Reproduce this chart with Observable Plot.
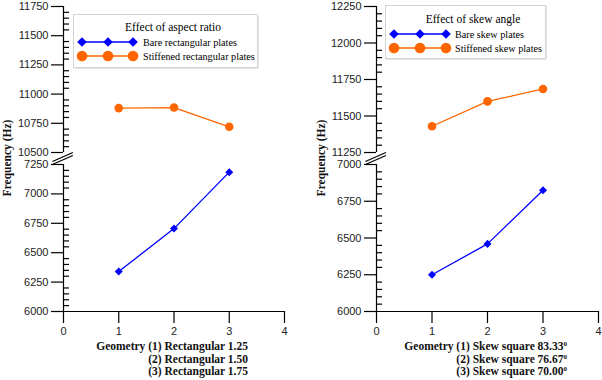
<!DOCTYPE html>
<html><head><meta charset="utf-8">
<script src="https://cdn.jsdelivr.net/npm/d3@7"></script>
<script src="https://cdn.jsdelivr.net/npm/@observablehq/plot@0.6"></script>
<style>
body{margin:0;background:#fff;}
#wrap{position:relative;width:602px;height:380px;overflow:hidden;font-family:"Liberation Serif","Times New Roman",serif;color:#111;}
.panel{position:absolute;top:0;}
.panel svg{overflow:visible;}
.xtitle{position:absolute;font-weight:bold;font-size:11.5px;line-height:12.6px;text-align:right;white-space:nowrap;}
.xtitle sup{font-size:7px;position:relative;top:-4px;vertical-align:baseline;line-height:0;}
.ytitle{position:absolute;font-weight:bold;font-size:11.5px;white-space:nowrap;transform:translate(-50%,-50%) rotate(-90deg);}
.legend{position:absolute;}
</style>
</head><body>
<div id="wrap"></div>
<script>
// ---- data ----
const geometry = [1, 2, 3];
const xTicks = [0, 1, 2, 3, 4];

const rectBare = [6340, 6705, 7185];
const rectStiff = [10880, 10885, 10720];
const rectLowTicks = [6000, 6250, 6500, 6750, 7000, 7250];
const rectHighTicks = [10500, 10750, 11000, 11250, 11500, 11750];

const skewBare = [6250, 6460, 6825];
const skewStiff = [11430, 11600, 11685];
const skewLowTicks = [6000, 6250, 6500, 6750, 7000];
const skewHighTicks = [11250, 11500, 11750, 12000, 12250];

const rectLegend = ["Bare rectangular plates", "Stiffened rectangular plates"];
const skewLegend = ["Bare skew plates", "Stiffened skew plates"];
const rectTitle = "Effect of aspect ratio";
const skewTitle = "Effect of skew angle";

const BLUE = "#0000ff";
const ORANGE = "#ff6600";

const wrap = document.getElementById("wrap");

function minorTicks(lo, hi, majors) {
  const out = [];
  for (let v = lo; v <= hi; v += 50) if (majors.indexOf(v) < 0) out.push(v);
  return out;
}

function panel({left, width, marginLeft, marginRight, lowTicks, highTicks, bare, stiff}) {
  const low0 = lowTicks[0], lowTop = lowTicks[lowTicks.length - 1];
  const high0 = highTicks[0], highTop = highTicks[highTicks.length - 1];
  const majors = [...lowTicks, ...highTicks];
  const minors = [...minorTicks(low0, lowTop, lowTicks), ...minorTicks(high0, highTop, highTicks)];
  const minorData = minors.map(v => ({v}));
  const bareData = geometry.map((g, i) => ({g, v: bare[i]}));
  const stiffData = geometry.map((g, i) => ({g, v: stiff[i]}));
  // break slashes drawn inside the gap of the piecewise scale
  const gap = f => lowTop + f * (high0 - lowTop);
  const slashes = [
    {x1: -0.2, y1: gap(0.25), x2: 0.17, y2: gap(1.0)},
    {x1: -0.2, y1: gap(0.0), x2: 0.17, y2: gap(0.75)}
  ];
  const chart = Plot.plot({
    width, height: 340,
    marginLeft, marginRight, marginTop: 6, marginBottom: 29,
    style: {fontFamily: "'Liberation Sans', Arial, sans-serif", fontSize: "11px", color: "#222", background: "transparent"},
    x: {domain: [0, 4], axis: null},
    y: {type: "linear", domain: [low0, lowTop, high0, highTop], range: [311, 164, 152, 6], axis: null},
    marks: [
      Plot.ruleY([low0], {stroke: "#000", strokeWidth: 1.2}),
      Plot.ruleX([0], {y1: low0, y2: lowTop, stroke: "#000", strokeWidth: 1.2}),
      Plot.ruleX([0], {y1: high0, y2: highTop, stroke: "#000", strokeWidth: 1.2}),
      Plot.link(slashes, {x1: "x1", y1: "y1", x2: "x2", y2: "y2", stroke: "#000", strokeWidth: 1.2}),
      Plot.axisX({ticks: xTicks, tickSize: 12, tickPadding: 4, tickFormat: d => String(d), label: null, fontSize: 11, stroke: "#000", strokeWidth: 1.2}),
      Plot.axisY({ticks: majors, tickSize: 12, tickPadding: 3, tickFormat: d => String(d), label: null, fontSize: 11, stroke: "#000", strokeWidth: 1.2}),
      Plot.link(minorData, {x1: 0, x2: 0.1, y1: "v", y2: "v", stroke: "#000", strokeWidth: 1.2}),
      Plot.line(stiffData, {x: "g", y: "v", stroke: ORANGE, strokeWidth: 1.3}),
      Plot.dot(stiffData, {x: "g", y: "v", r: 4.3, fill: ORANGE, stroke: "none"}),
      Plot.line(bareData, {x: "g", y: "v", stroke: BLUE, strokeWidth: 1.3}),
      Plot.dot(bareData, {x: "g", y: "v", symbol: "square", rotate: 45, r: 3.2, fill: BLUE, stroke: "none"})
    ]
  });
  const div = document.createElement("div");
  div.className = "panel";
  div.style.left = left + "px";
  div.appendChild(chart);
  wrap.appendChild(div);
}

function legend({left, top, width, height, title, titleY, labels, rowY, markX, textX}) {
  const svg = d3.create("svg").attr("width", width + 3).attr("height", height + 3)
    .attr("class", "legend").style("left", left + "px").style("top", top + "px");
  svg.append("rect").attr("x", 1.5).attr("y", 1.5).attr("width", width).attr("height", height).attr("fill", "#ccc");
  svg.append("rect").attr("x", 0.5).attr("y", 0.5).attr("width", width).attr("height", height)
    .attr("fill", "#fff").attr("stroke", "#d4d4d4");
  svg.append("text").attr("x", width / 2 + 8).attr("y", titleY).attr("text-anchor", "middle")
    .attr("dominant-baseline", "central").attr("font-size", 11.5)
    .attr("font-family", "'Liberation Serif','Times New Roman',serif").text(title);
  const colors = [BLUE, ORANGE];
  labels.forEach((lab, i) => {
    const y = rowY[i];
    svg.append("line").attr("x1", markX[0]).attr("x2", markX[2]).attr("y1", y).attr("y2", y)
      .attr("stroke", colors[i]).attr("stroke-width", 1.3);
    markX.forEach(x => {
      if (i === 0) {
        svg.append("rect").attr("x", -3.4).attr("y", -3.4).attr("width", 6.8).attr("height", 6.8)
          .attr("fill", colors[i]).attr("transform", `translate(${x},${y}) rotate(45)`);
      } else {
        svg.append("circle").attr("cx", x).attr("cy", y).attr("r", 5.3).attr("fill", colors[i]);
      }
    });
    svg.append("text").attr("x", textX).attr("y", y).attr("dominant-baseline", "central")
      .attr("font-size", 10.2).attr("font-family", "'Liberation Serif','Times New Roman',serif").text(lab);
  });
  wrap.appendChild(svg.node());
}

function label(cls, html, style) {
  const d = document.createElement("div");
  d.className = cls;
  d.innerHTML = html;
  Object.assign(d.style, style);
  wrap.appendChild(d);
}

panel({left: 0, width: 300, marginLeft: 63, marginRight: 16, lowTicks: rectLowTicks, highTicks: rectHighTicks, bare: rectBare, stiff: rectStiff});
panel({left: 301, width: 301, marginLeft: 75, marginRight: 4, lowTicks: skewLowTicks, highTicks: skewHighTicks, bare: skewBare, stiff: skewStiff});

legend({left: 73, top: 14, width: 184, height: 53, title: rectTitle, titleY: 13, labels: rectLegend, rowY: [28, 42], markX: [9, 35, 60], textX: 70});
legend({left: 385, top: 5, width: 160, height: 53, title: skewTitle, titleY: 14, labels: skewLegend, rowY: [29, 43], markX: [9, 35, 61], textX: 70});

label("ytitle", "Frequency (Hz)", {left: "7px", top: "158px"});
label("ytitle", "Frequency (Hz)", {left: "321px", top: "158px"});

label("xtitle", "Geometry (1) Rectangular 1.25<br>(2) Rectangular 1.50<br>(3) Rectangular 1.75", {right: "354px", top: "340px"});
label("xtitle", "Geometry (1) Skew square 83.33<sup>0</sup><br>(2) Skew square 76.67<sup>0</sup><br>(3) Skew square 70.00<sup>0</sup>", {right: "35px", top: "340px"});
</script>
</body></html>
